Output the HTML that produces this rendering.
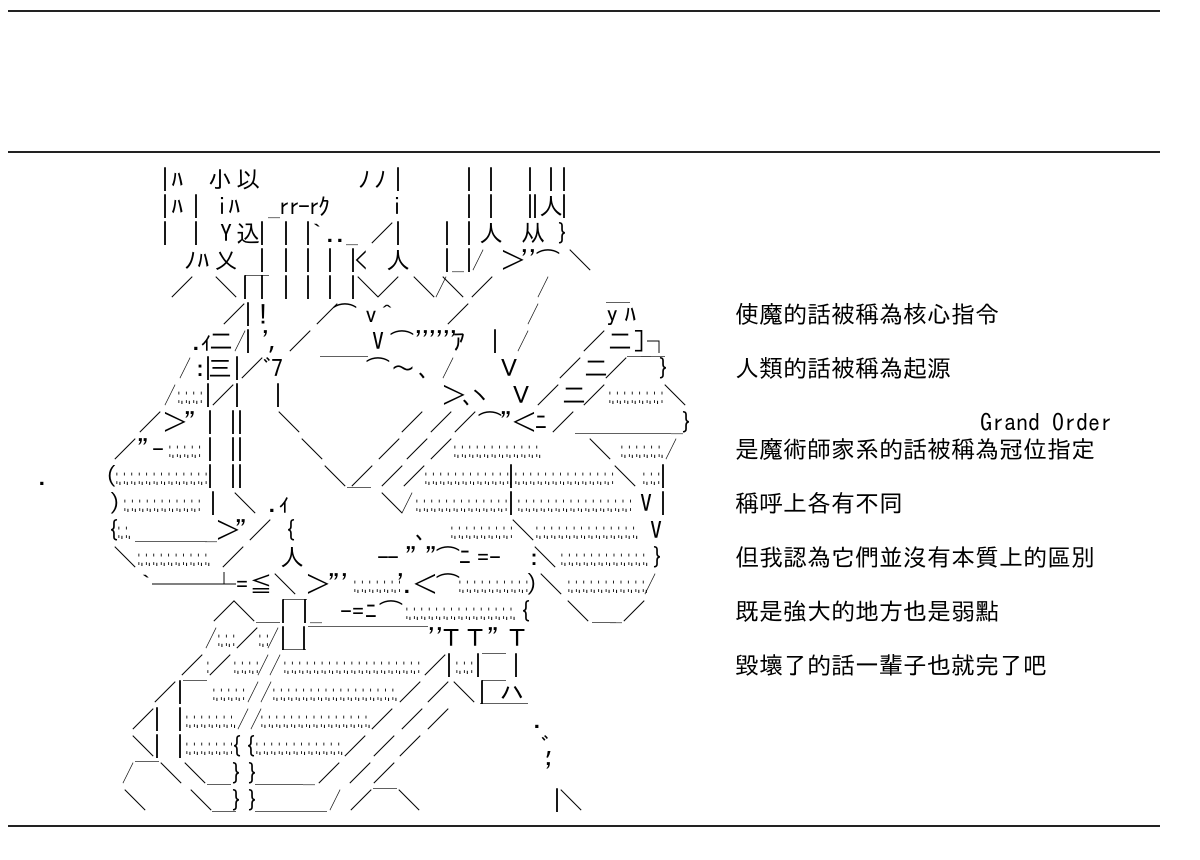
<!DOCTYPE html>
<html><head><meta charset="utf-8">
<style>
html,body{margin:0;padding:0;background:#fff}
body{width:1200px;height:860px;position:relative;overflow:hidden;font-family:"IPAGothic","Noto Sans CJK JP",sans-serif;font-size:24px;color:#000}
.hr{position:absolute;left:8px;width:1152px;height:2px;background:#222}
.l{position:absolute;left:0;width:1200px;height:27px;line-height:27px}
.l b{position:absolute;top:0;font-weight:400;white-space:pre}
.l b.h{transform:scaleX(.5);transform-origin:0 0}
.l i{position:absolute;top:0;font-style:normal;white-space:pre;transform:scaleX(.31);transform-origin:0 0}
</style></head><body>
<div class="hr" style="top:10px"></div>
<div class="hr" style="top:151px"></div>
<div class="hr" style="top:825px"></div>

<div class="l" style="top:166px"><b style="left:159px">|</b><b style="left:171px">ﾊ</b><b style="left:208px">小</b><b style="left:236px">以</b><b style="left:358px">ﾉ</b><b style="left:374px">ﾉ</b><b style="left:392px">|</b><b style="left:463px">|</b><b style="left:485px">|</b><b style="left:524px">|</b><b style="left:545px">|</b><b style="left:558px">|</b></div>

<div class="l" style="top:193px"><b style="left:159px">|</b><b style="left:171px">ﾊ</b><b style="left:190px">|</b><b style="left:216px">i</b><b style="left:228px">ﾊ</b><b style="left:268px;letter-spacing:-2px">_rr-rｸ</b><b style="left:391px">i</b><b style="left:463px">|</b><b style="left:485px">|</b><b style="left:524px">|</b><b style="left:529px">|</b><b style="left:539px">人</b><b style="left:558px">|</b></div>

<div class="l" style="top:220px"><b style="left:159px">|</b><b style="left:190px">|</b><b style="left:220px">Y</b><b style="left:236px">込</b><b style="left:256px">|</b><b style="left:280px">|</b><b style="left:302px">|</b><b style="left:311px">`</b><b style="left:326px;letter-spacing:-2px">.._</b><b style="left:370px">／</b><b style="left:392px">|</b><b style="left:441px">|</b><b style="left:463px">|</b><b style="left:479px">人</b><b style="left:521px">从</b><b style="left:557px">}</b></div>

<div class="l" style="top:247px"><b style="left:184px">ﾉ</b><b style="left:197px">ﾊ</b><b style="left:214px">乂</b><b style="left:256px">|</b><b style="left:280px">|</b><b style="left:302px">|</b><b style="left:324px">|</b><b style="left:347px">|</b><b style="left:355px">&lt;</b><b style="left:386px">人</b><b style="left:441px">|</b><b style="left:452px">_</b><b style="left:463px">|</b><b class="h" style="left:472px">／</b><b style="left:501px">＞</b><b style="left:521px;letter-spacing:-4px">''</b><b style="left:536px">⌒</b><b style="left:568px">＼</b></div>

<div class="l" style="top:274px"><b style="left:170px">／</b><b style="left:214px">＼</b><b style="left:239px">|</b><b style="left:245px">￣</b><b style="left:256px">|</b><b style="left:280px">|</b><b style="left:302px">|</b><b style="left:324px">|</b><b style="left:347px">|</b><b style="left:356px">＼</b><b style="left:376px">／</b><b style="left:412px">＼</b><b class="h" style="left:435px">／</b><b style="left:441px">＼</b><b style="left:470px">／</b><b class="h" style="left:537px">／</b></div>

<div class="l" style="top:301px"><b style="left:222px">／</b><b style="left:242px">|</b><b style="left:257px">!</b><b style="left:315px">／</b><b style="left:333px">⌒</b><b style="left:365px">v</b><b style="left:381px">^</b><b style="left:446px">／</b><b class="h" style="left:527px">／</b><b style="left:606px">￣</b><b style="left:606px">y</b><b style="left:624px">ﾊ</b><b style="left:735px">使魔的話被稱為核心指令</b></div>

<div class="l" style="top:328px"><b style="left:192px">.</b><b style="left:200px">ｨ</b><b style="left:209px">二</b><b class="h" style="left:234px">／</b><b style="left:242px">|</b><b style="left:262px">'</b><b style="left:268px">,</b><b style="left:288px">／</b><b style="left:372px">V</b><b style="left:390px">⌒</b><b style="left:415px;letter-spacing:-5px">''''''</b><b style="left:453px">ｱ</b><b style="left:489px">|</b><b class="h" style="left:517px">／</b><b style="left:582px">／</b><b style="left:608px">二</b><b style="left:633px">]</b><b style="left:647px">┐</b></div>

<div class="l" style="top:355px"><b class="h" style="left:179px">／</b><b style="left:194px">:</b><b style="left:202px">|</b><b style="left:208px">三</b><b style="left:231px">|</b><b style="left:240px">／</b><b style="left:263px">ﾞ</b><b style="left:271px">7</b><b style="left:320px">￣</b><b style="left:344px">￣</b><b style="left:366px">⌒</b><b style="left:391px">〜</b><b style="left:418px">､</b><b class="h" style="left:442px">／</b><b style="left:497px">Ｖ</b><b style="left:558px">／</b><b style="left:584px">二</b><b style="left:604px">／</b><b style="left:627px">￣</b><b style="left:641px">￣</b><b style="left:658px">}</b><b style="left:735px">人類的話被稱為起源</b></div>

<div class="l" style="top:382px"><b class="h" style="left:164px">／</b><i style="left:177px">:.:.:.:</i><b style="left:202px">|</b><b style="left:211px">／</b><b style="left:231px">|</b><b style="left:272px">|</b><b style="left:442px">＞</b><b style="left:462px">､</b><b style="left:468px">ヽ</b><b style="left:509px">Ｖ</b><b style="left:536px">／</b><b style="left:562px">二</b><b style="left:582px">／</b><i style="left:608px">:.:.:.:.:.:.:.:</i><b style="left:663px">＼</b></div>

<div class="l" style="top:409px"><b style="left:138px">／</b><b style="left:163px">＞</b><b style="left:184px">"</b><b style="left:204px">|</b><b style="left:227px">|</b><b style="left:234px">|</b><b style="left:277px">＼</b><b style="left:400px">／</b><b style="left:429px">／</b><b style="left:453px">／</b><b style="left:478px">⌒</b><b style="left:500px">"</b><b style="left:512px">＜</b><b style="left:535px">ﾆ</b><b style="left:551px">／</b><b style="left:575px">＿＿＿＿</b><b style="left:671px">_</b><b style="left:681px">}</b><b style="left:980px">Grand Order</b></div>

<div class="l" style="top:436px"><b style="left:113px">／</b><b style="left:137px">"</b><b style="left:152px">-</b><i style="left:168px">:.:.:.:.:</i><b style="left:204px">|</b><b style="left:227px">|</b><b style="left:234px">|</b><b style="left:300px">＼</b><b style="left:377px">／</b><b style="left:405px">／</b><b style="left:429px">／</b><i style="left:453px">:.:.:.:.:.:.:.:.:.:.:.:.</i><b style="left:588px">＼</b><i style="left:620px">:.:.:.:.:.:.</i><b class="h" style="left:665px">／</b><b style="left:735px">是魔術師家系的話被稱為冠位指定</b></div>

<div class="l" style="top:463px"><b style="left:38px">.</b><b style="left:105px">(</b><i style="left:115px">:.:.:.:.:.:.:.:.:.:.:.:.:</i><b style="left:204px">|</b><b style="left:227px">|</b><b style="left:234px">|</b><b style="left:323px">＼</b><b style="left:347px">＿</b><b style="left:350px">／</b><b style="left:380px">／</b><b style="left:402px">／</b><i style="left:424px">:.:.:.:.:.:.:.:.:.:.:.:.</i><b style="left:505px">|</b><i style="left:514px">:.:.:.:.:.:.:.:.:.:.:.:.:.:</i><b style="left:613px">＼</b><i style="left:642px">:.:.:</i><b style="left:657px">|</b></div>

<div class="l" style="top:490px"><b style="left:109px">)</b><i style="left:123px">:.:.:.:.:.:.:.:.:.:.:</i><b style="left:207px">|</b><b style="left:233px">＼</b><b style="left:268px">.</b><b style="left:278px">ｨ</b><b style="left:380px">＼</b><b class="h" style="left:401px">／</b><i style="left:415px">:.:.:.:.:.:.:.:.:.:.:.:.:</i><b style="left:505px">|</b><i style="left:517px">:.:.:.:.:.:.:.:.:.:.:.:.:.:.:.:</i><b style="left:640px">V</b><b style="left:657px">|</b><b style="left:735px">稱呼上各有不同</b></div>

<div class="l" style="top:517px"><b style="left:107px">{</b><i style="left:117px">:.:.</i><b style="left:135px">＿＿＿</b><b style="left:205px">_</b><b style="left:216px">＞</b><b style="left:235px">"</b><b style="left:248px">／</b><b style="left:284px">{</b><b style="left:415px">､</b><i style="left:450px">:.:.:.:.:.:.:.:.:</i><b style="left:511px">＼</b><i style="left:535px">:.:.:.:.:.:.:.:.:.:.:.:.:.:.</i><b style="left:650px">V</b></div>

<div class="l" style="top:544px"><b style="left:113px">＼</b><i style="left:137px">:.:.:.:.:.:.:.:.:.:.</i><b style="left:221px">／</b><b style="left:280px">人</b><b style="left:377px;letter-spacing:-2px">--</b><b style="left:405px">"</b><b style="left:425px">"</b><b style="left:436px">⌒</b><b style="left:459px">ﾆ</b><b style="left:477px">=</b><b style="left:489px">-</b><b style="left:528px">:</b><b style="left:533px">＼</b><i style="left:560px">:.:.:.:.:.:.:.:.:.:.:.:.</i><b style="left:652px">}</b><b style="left:735px">但我認為它們並沒有本質上的區別</b></div>

<div class="l" style="top:571px"><b style="left:140px">`</b><b style="left:152px">───</b><b style="left:212px">┴</b><b style="left:236px">=</b><b style="left:249px">≦</b><b style="left:273px">＼</b><b style="left:306px">＞</b><b style="left:328px">"</b><b style="left:341px">'</b><i style="left:353px">:.:.:.:.:.:.:</i><b style="left:397px">'</b><b style="left:403px">.</b><b style="left:413px">＜</b><b style="left:436px">⌒</b><i style="left:458px">:.:.:.:.:.:.:.:.:.:</i><b style="left:526px">)</b><b style="left:539px">＼</b><i style="left:567px">:.:.:.:.:.:.:.:.:.:.:.</i><b class="h" style="left:644px">／</b></div>

<div class="l" style="top:598px"><b style="left:212px">／</b><b style="left:232px">＼</b><b style="left:256px">＿</b><b style="left:277px">|</b><b style="left:283px">￣</b><b style="left:299px">|</b><b style="left:310px">_</b><b style="left:340px">-</b><b style="left:352px">=</b><b style="left:365px">ﾆ</b><b style="left:379px">⌒</b><i style="left:405px">:.:.:.:.:.:.:.:.:.:.:.:.:.:.:.</i><b style="left:519px">{</b><b style="left:566px">＼</b><b style="left:592px">＿</b><b style="left:610px">_</b><b style="left:622px">／</b><b style="left:735px">既是強大的地方也是弱點</b></div>

<div class="l" style="top:625px"><b class="h" style="left:205px">／</b><i style="left:217px">:.:.:</i><b style="left:235px">／</b><i style="left:258px">:.:</i><b class="h" style="left:267px">／</b><b style="left:277px">|</b><b style="left:282px">＿</b><b style="left:298px">|</b><b style="left:308px">￣￣￣￣￣</b><b style="left:428px;letter-spacing:-4px">''</b><b style="left:439px">Ｔ</b><b style="left:463px">Ｔ</b><b style="left:487px">"</b><b style="left:505px">Ｔ</b></div>

<div class="l" style="top:652px"><b style="left:180px">／</b><i style="left:206px">:</i><b style="left:208px">／</b><i style="left:233px">:.:.:.:</i><b class="h" style="left:257px">／</b><b class="h" style="left:269px">／</b><i style="left:283px">:.:.:.:.:.:.:.:.:.:.:.:.:.:.:.:.:.:.:</i><b style="left:423px">／</b><b style="left:443px">|</b><i style="left:455px">:.:.:</i><b style="left:472px">|</b><b style="left:482px">￣</b><b style="left:510px">|</b><b style="left:735px">毀壞了的話一輩子也就完了吧</b></div>

<div class="l" style="top:679px"><b style="left:153px">／</b><b style="left:174px">|</b><b style="left:183px">￣</b><i style="left:212px">:.:.:.:.:</i><b class="h" style="left:247px">／</b><b class="h" style="left:260px">／</b><i style="left:272px">:.:.:.:.:.:.:.:.:.:.:.:.:.:.:.:.:.</i><b style="left:398px">／</b><b style="left:426px">／</b><b style="left:452px">＼</b><b style="left:476px">|</b><b style="left:482px">￣</b><b style="left:500px">ハ</b><b style="left:480px">＿＿</b></div>

<div class="l" style="top:706px"><b style="left:131px">／</b><b style="left:151px">|</b><b style="left:174px">|</b><i style="left:185px">:.:.:.:.:.:.:.</i><b class="h" style="left:237px">／</b><b class="h" style="left:250px">／</b><i style="left:260px">:.:.:.:.:.:.:.:.:.:.:.:.:.:.:.</i><b style="left:370px">／</b><b style="left:400px">／</b><b style="left:426px">／</b><b style="left:533px">.</b></div>

<div class="l" style="top:733px"><b style="left:131px">＼</b><b style="left:151px">|</b><b style="left:174px">|</b><i style="left:185px">:.:.:.:.:.:.:</i><b style="left:230px">{</b><b style="left:244px">{</b><i style="left:255px">:.:.:.:.:.:.:.:.:.:.:.:.</i><b style="left:343px">／</b><b style="left:372px">／</b><b style="left:398px">／</b><b style="left:541px">ﾞ</b><b style="left:545px">,</b></div>

<div class="l" style="top:760px"><b class="h" style="left:122px">／</b><b style="left:135px">￣</b><b style="left:159px">＼</b><b style="left:183px">＼</b><b style="left:207px">＿</b><b style="left:231px">}</b><b style="left:247px">}</b><b style="left:255px">＿＿</b><b style="left:303px">_</b><b style="left:317px">／</b><b style="left:348px">／</b><b style="left:372px">／</b><b style="left:545px">'</b></div>

<div class="l" style="top:787px"><b style="left:123px">＼</b><b style="left:189px">＼</b><b style="left:212px">＿</b><b style="left:231px">}</b><b style="left:247px">}</b><b style="left:255px">＿＿＿</b><b class="h" style="left:329px">／</b><b style="left:349px">／</b><b style="left:373px">￣</b><b style="left:397px">＼</b><b style="left:551px">|</b><b style="left:559px">＼</b></div>

</body></html>
